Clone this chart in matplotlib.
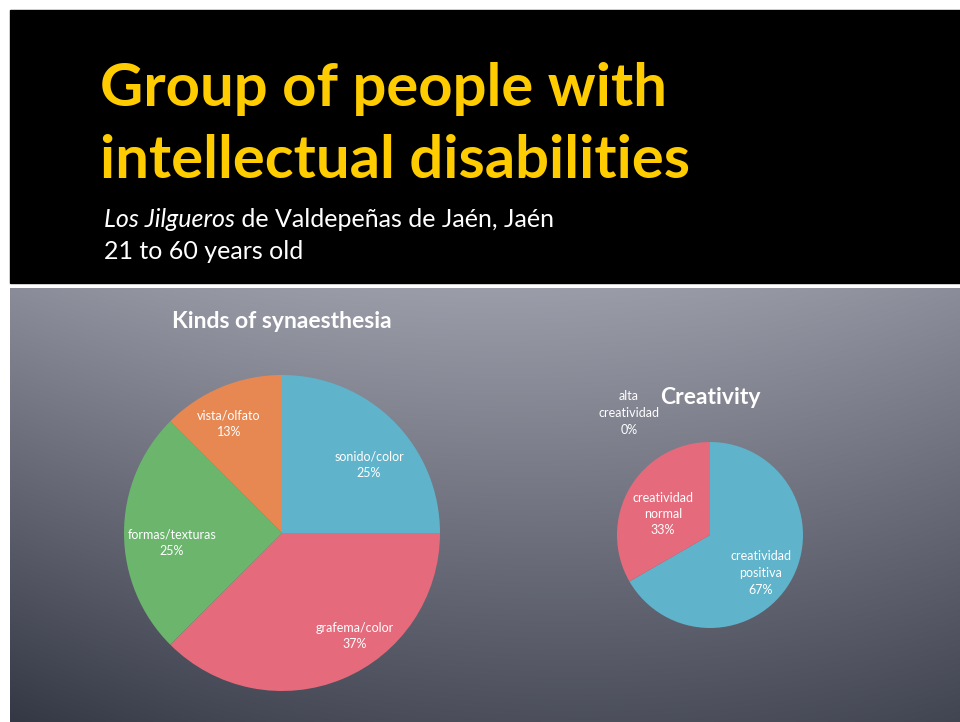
import numpy as np
import matplotlib
matplotlib.use("Agg")
import matplotlib.pyplot as plt
from matplotlib.patches import Rectangle

# data
synaesthesia_kinds = ["sonido/color", "grafema/color", "formas/texturas", "vista/olfato"]
synaesthesia_counts = [2, 3, 2, 1]
synaesthesia_pct = ["25%", "37%", "25%", "13%"]
synaesthesia_colors = ["#5fb3cb", "#e56a7c", "#6bb56c", "#e78853"]

creativity_kinds = ["creatividad\npositiva", "creatividad\nnormal", "alta\ncreatividad"]
creativity_counts = [2, 1, 0]
creativity_pct = ["67%", "33%", "0%"]
creativity_colors = ["#5fb3cb", "#e56a7c", "#6bb56c"]

W, H = 960, 722
fig = plt.figure(figsize=(9.6, 7.22), dpi=100, facecolor="white")
ax = fig.add_axes([0, 0, 1, 1])
ax.set_axis_off()

# black header band
ax.add_patch(Rectangle((10, H - 283), 950, 273, color="black", zorder=0))

# grey-blue gradient panel
gh, gw = 434, 950
yy, xx = np.mgrid[0:gh, 0:gw]
v = yy / gh
hz = (xx - 480) / 475.0
t = 0.05 + 0.68 * v + 0.15 * hz ** 2 + 0.12 * v * (1 - xx / gw)
t = np.clip(t, 0, 1)[..., None]
light = np.array([160, 162, 174]) / 255
dark = np.array([52, 55, 68]) / 255
img = light * (1 - t) + dark * t
ax.imshow(img, extent=(10, 960, 0, gh), origin="upper", aspect="auto", zorder=0)

# header text
ax.text(100, H - 178, "Group of people with\nintellectual disabilities", color="#ffcc00",
        fontsize=43, fontweight="bold", family="Lato", va="baseline", ha="left",
        linespacing=1.4)
t1 = ax.text(104, H - 227, "Los Jilgueros", color="white", fontsize=18, style="italic",
             family="Lato", va="baseline")
ax.annotate(" de Valdepeñas de Jaén, Jaén", xy=(1, 0), xycoords=t1, color="white",
            fontsize=18, family="Lato", va="bottom")
ax.text(104, H - 259, "21 to 60 years old", color="white", fontsize=18, family="Lato",
        va="baseline")

label_font = dict(color="white", fontsize=9, family="Lato")


def place_labels(texts, center, offsets):
    # Excel-style inside labels, nudged from the pie centre
    for txt, (dx, dy) in zip(texts, offsets):
        txt.set_position((center[0] + dx, center[1] + dy))
        txt.set_ha("center")
        txt.set_va("center")
        txt.set_linespacing(1.45)


# left pie
c1 = (282, H - 533)
w1, l1 = ax.pie(synaesthesia_counts, colors=synaesthesia_colors, startangle=90,
                counterclock=False, center=c1, radius=158,
                labels=[f"{k}\n{p}" for k, p in zip(synaesthesia_kinds, synaesthesia_pct)],
                textprops=label_font, wedgeprops=dict(linewidth=0))
place_labels(l1, c1, [(87, 68), (73, -103), (-110, -10), (-53, 109)])
ax.text(282, H - 322, "Kinds of synaesthesia", color="white", fontsize=16.5,
        fontweight="bold", family="Lato", ha="center", va="center")

# right pie
c2 = (710, H - 535)
w2, l2 = ax.pie(creativity_counts, colors=creativity_colors, startangle=90,
                counterclock=False, center=c2, radius=93,
                labels=[f"{k}\n{p}" for k, p in zip(creativity_kinds, creativity_pct)],
                textprops=label_font, wedgeprops=dict(linewidth=0))
place_labels(l2, c2, [(51, -38), (-47, 21), (-81, 122)])
ax.text(710, H - 397, "Creativity", color="white", fontsize=16.5,
        fontweight="bold", family="Lato", ha="center", va="center")

ax.set_xlim(0, W)
ax.set_ylim(0, H)

fig.savefig("out.png", dpi=100, facecolor="white")
